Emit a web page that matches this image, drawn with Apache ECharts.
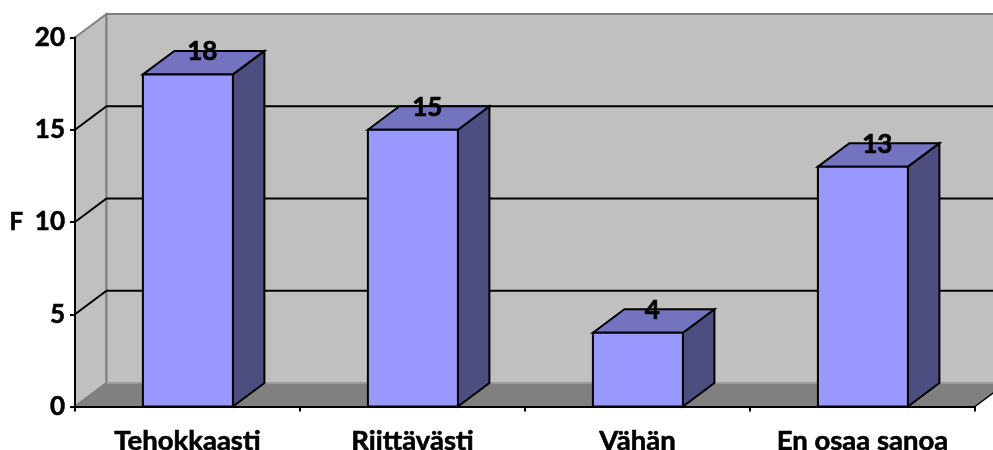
<!DOCTYPE html>
<html>
<head>
<meta charset="utf-8">
<style>html,body{margin:0;padding:0;background:#fff}#c{width:993px;height:450px}</style>
<script src="https://cdn.jsdelivr.net/npm/echarts@6/dist/echarts.min.js"></script>
</head>
<body>
<div id="c"></div>
<script>
const categories = ['Tehokkaasti', 'Riittävästi', 'Vähän', 'En osaa sanoa'];
const values = [18, 15, 4, 13];
const yTicks = [5, 10, 15];
const yName = 'F';
const yMax = 20;
const yStep = 5;

const DX = 31.5, DY = -23.5;
const FONT = 'Lato';
const shift = (p) => [p[0] + DX, p[1] + DY];

const chart = echarts.init(document.getElementById('c'), null, {renderer: 'canvas'});

function renderWalls(params, api) {
  const cs = params.coordSys;
  const L = cs.x, R = cs.x + cs.width, T = cs.y, B = cs.y + cs.height;
  const edge = {stroke: '#808080', lineWidth: 2};
  return {type: 'group', silent: true, children: [
    {type: 'polygon', shape: {points: [[L, T], shift([L, T]), shift([L, B]), [L, B]]},
      style: {fill: '#c0c0c0', stroke: '#808080', lineWidth: 2}},
    {type: 'polygon', shape: {points: [shift([L, T]), shift([R, T]), shift([R, B]), shift([L, B])]},
      style: {fill: '#c0c0c0', stroke: '#808080', lineWidth: 2}},
    {type: 'polygon', shape: {points: [[L, B], shift([L, B]), shift([R, B]), [R, B]]},
      style: {fill: '#808080', stroke: null}},
    {type: 'line', shape: {x1: L, y1: B, x2: L + DX, y2: B + DY}, style: edge},
    {type: 'line', shape: {x1: L + DX, y1: B + DY, x2: R + DX, y2: B + DY}, style: {stroke: '#9a9a9a', lineWidth: 2}},
    {type: 'line', shape: {x1: R, y1: B, x2: R + DX, y2: B + DY}, style: {stroke: '#000', lineWidth: 1.5}}
  ]};
}

function renderGrid(params, api) {
  const cs = params.coordSys;
  const y = api.coord([0, api.value(0)])[1];
  const a = [cs.x, y], b = shift(a), c = [cs.x + cs.width + DX, y + DY];
  return {type: 'polyline', silent: true, shape: {points: [a, b, c]},
    style: {stroke: '#000', lineWidth: 2, fill: null}};
}

function renderBar(params, api) {
  const i = api.value(0), v = api.value(1);
  const top = api.coord([i, v]), base = api.coord([i, 0]);
  const w = api.size([1, 0])[0] * 0.4;
  const l = top[0] - w / 2 + 0.4, r = top[0] + w / 2 + 0.4;
  const border = {stroke: '#000', lineWidth: 2, lineJoin: 'miter'};
  const tl = [l, top[1]], tr = [r, top[1]], bl = [l, base[1]], br = [r, base[1]];
  return {type: 'group', children: [
    {type: 'polygon', shape: {points: [tr, shift(tr), shift(br), br]},
      style: Object.assign({fill: '#4d4d80'}, border)},
    {type: 'polygon', shape: {points: [tl, shift(tl), shift(tr), tr]},
      style: Object.assign({fill: '#7373bf'}, border)},
    {type: 'polygon', shape: {points: [tl, tr, br, bl]},
      style: Object.assign({fill: '#9999ff'}, border)},
    {type: 'text', style: {text: String(v), x: top[0] + DX / 2 - 1, y: top[1] + DY + 1,
      align: 'center', verticalAlign: 'middle',
      font: 'bold 26px ' + FONT, fill: '#000', stroke: '#000', lineWidth: 0.7}}
  ]};
}

chart.setOption({
  animation: false,
  backgroundColor: '#fff',
  grid: {left: 75, top: 37.5, width: 900, height: 369, containLabel: false, outerBoundsMode: 'none'},
  xAxis: {
    type: 'category', data: categories, z: 10,
    axisLine: {show: true, lineStyle: {color: '#000', width: 2}},
    axisTick: {show: true, alignWithLabel: false, length: 5, lineStyle: {color: '#000', width: 2}},
    axisLabel: {color: '#000', fontFamily: FONT, fontWeight: 'bold', fontSize: 27.5, margin: 21, interval: 0,
      textBorderColor: '#000', textBorderWidth: 0.6},
    splitLine: {show: false}
  },
  yAxis: {
    type: 'value', min: 0, max: yMax, interval: yStep, z: 10,
    name: yName, nameLocation: 'middle', nameGap: 52, nameRotate: 0,
    nameTextStyle: {color: '#000', fontFamily: FONT, fontWeight: 'bold', fontSize: 24,
      textBorderColor: '#000', textBorderWidth: 0.6},
    axisLine: {show: true, lineStyle: {color: '#000', width: 2}},
    axisTick: {show: true, length: 5, lineStyle: {color: '#000', width: 2}},
    axisLabel: {color: '#000', fontFamily: FONT, fontWeight: 'bold', fontSize: 26, margin: 10,
      textBorderColor: '#000', textBorderWidth: 0.6},
    splitLine: {show: false}
  },
  series: [
    {type: 'custom', z: 1, silent: true, renderItem: renderWalls, data: [[0]], encode: {x: -1, y: -1}},
    {type: 'custom', z: 2, silent: true, renderItem: renderGrid, data: yTicks.map(t => [t]), encode: {y: 0, x: -1}},
    {type: 'custom', z: 3, renderItem: renderBar,
      data: values.map((v, i) => [i, v]), encode: {x: 0, y: 1}}
  ]
});
</script>
</body>
</html>
